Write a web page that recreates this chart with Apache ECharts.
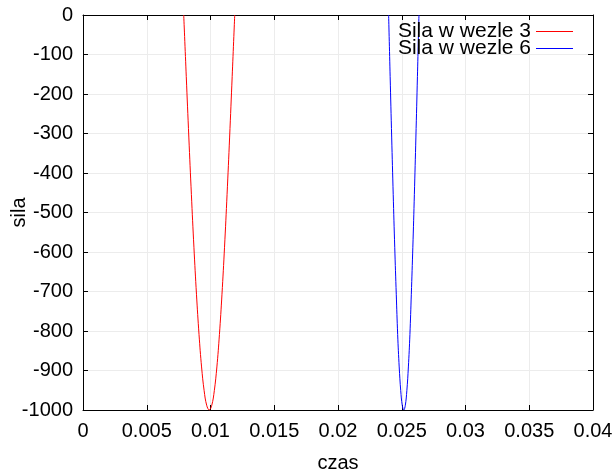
<!DOCTYPE html>
<html>
<head>
<meta charset="utf-8">
<script src="https://cdn.jsdelivr.net/npm/echarts@6/dist/echarts.min.js"></script>
<style>
html,body{margin:0;padding:0;background:#fff;}
#c{width:616px;height:470px;}
</style>
</head>
<body>
<div id="c"></div>
<script>
// Data
var seriesNames = ['Sila w wezle 3', 'Sila w wezle 6'];
var redX = [0.0079, 0.0081, 0.0083, 0.0085, 0.0087, 0.0089, 0.0091, 0.0093, 0.0095, 0.0097, 0.0099,
            0.0101, 0.0103, 0.0105, 0.0107, 0.0109, 0.0111, 0.0113, 0.0115, 0.0117, 0.0119];
var redY = [0, -156, -309, -454, -588, -707, -809, -891, -951, -988, -1000,
            -988, -951, -891, -809, -707, -588, -454, -309, -156, 0];
var blueX = [0.02397, 0.02409, 0.02421, 0.02433, 0.02445, 0.02457, 0.02468, 0.02480, 0.02492, 0.02504, 0.02516,
             0.02528, 0.02540, 0.02552, 0.02564, 0.02575, 0.02587, 0.02599, 0.02611, 0.02623, 0.02635];
var blueY = [0, -156, -309, -454, -588, -707, -809, -891, -951, -988, -1000,
             -988, -951, -891, -809, -707, -588, -454, -309, -156, 0];
var xTicks = [0, 0.005, 0.01, 0.015, 0.02, 0.025, 0.03, 0.035, 0.04];
var yTicks = [-1000, -900, -800, -700, -600, -500, -400, -300, -200, -100, 0];

function pairs(xs, ys) { return xs.map(function (x, i) { return [x, ys[i]]; }); }

var FONT = 'Liberation Sans';
var FS = 20;
var chart = echarts.init(document.getElementById('c'), null, { renderer: 'canvas' });
var lineStyleAxis = { show: true, onZero: false, lineStyle: { color: '#000', width: 1 } };
var tickIn = { show: true, inside: true, length: 5, lineStyle: { color: '#000' } };

chart.setOption({
  animation: false,
  backgroundColor: '#fff',
  grid: { left: 83, right: 23, top: 15, bottom: 60, containLabel: false, outerBoundsMode: 'none' },
  legend: {
    orient: 'vertical', right: 38, top: 16, align: 'right',
    itemWidth: 37, itemHeight: 1, itemGap: -4,
    icon: 'rect',
    textStyle: { fontFamily: FONT, fontSize: 21, color: '#000', padding: [0, 0, 0, 0] },
    data: seriesNames
  },
  xAxis: [{
    type: 'value', min: xTicks[0], max: xTicks[xTicks.length - 1], interval: 0.005,
    name: 'czas', nameLocation: 'middle', nameGap: 43, nameMoveOverlap: false,
    nameTextStyle: { fontFamily: FONT, fontSize: FS, color: '#000' },
    axisLine: lineStyleAxis, axisTick: tickIn,
    axisLabel: { fontFamily: FONT, fontSize: FS, color: '#000', margin: 11, showMaxLabel: true,
                 formatter: function (v) { return String(v); } },
    splitLine: { show: true, lineStyle: { color: '#ececec', width: 1 } }
  }, {
    type: 'value', position: 'top', min: xTicks[0], max: xTicks[xTicks.length - 1], interval: 0.005,
    axisLine: lineStyleAxis, axisTick: tickIn, axisLabel: { show: false }, splitLine: { show: false }
  }],
  yAxis: [{
    type: 'value', min: yTicks[0], max: yTicks[yTicks.length - 1], interval: 100,
    name: 'sila', nameLocation: 'middle', nameGap: 54, nameRotate: 90, nameMoveOverlap: false,
    nameTextStyle: { fontFamily: FONT, fontSize: FS, color: '#000' },
    axisLine: lineStyleAxis, axisTick: tickIn,
    axisLabel: { fontFamily: FONT, fontSize: FS, color: '#000', margin: 10,
                 formatter: function (v) { return String(v); } },
    splitLine: { show: true, lineStyle: { color: '#ececec', width: 1 } }
  }, {
    type: 'value', position: 'right', min: yTicks[0], max: yTicks[yTicks.length - 1], interval: 100,
    axisLine: lineStyleAxis, axisTick: tickIn, axisLabel: { show: false }, splitLine: { show: false }
  }],
  series: [{
    name: seriesNames[0], type: 'line', data: pairs(redX, redY), smooth: 0.4,
    showSymbol: false, symbol: 'none', clip: true,
    lineStyle: { color: '#ff0000', width: 1 }, itemStyle: { color: '#ff0000' }
  }, {
    name: seriesNames[1], type: 'line', data: pairs(blueX, blueY), smooth: 0.4,
    showSymbol: false, symbol: 'none', clip: true,
    lineStyle: { color: '#0000ff', width: 1 }, itemStyle: { color: '#0000ff' }
  }]
});
</script>
</body>
</html>
